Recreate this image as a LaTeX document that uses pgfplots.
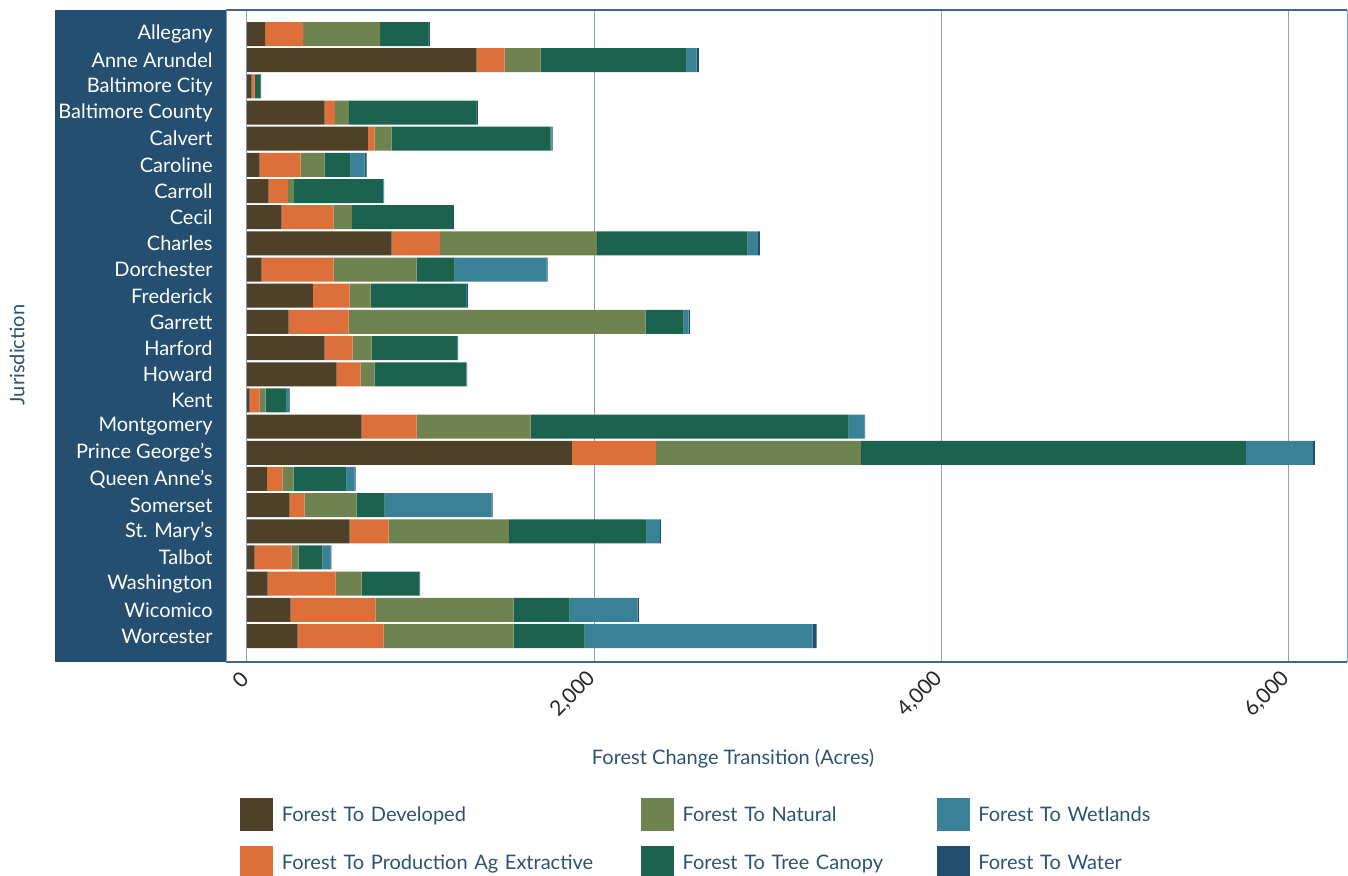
\documentclass[border=0pt]{standalone}
\usepackage{fontspec}
\setmainfont{Lato}
\usepackage{pgfplots}
\usepackage{pgfplotstable}
\pgfplotsset{compat=1.18}
\definecolor{cDev}{HTML}{4E4128}
\definecolor{cProd}{HTML}{DD6F3A}
\definecolor{cNat}{HTML}{6E834F}
\definecolor{cCan}{HTML}{1B624F}
\definecolor{cWet}{HTML}{388196}
\definecolor{cWat}{HTML}{224E6E}
\definecolor{panel}{HTML}{244F70}
\definecolor{tblue}{HTML}{2D5273}
\definecolor{gridc}{HTML}{8CA4B9}
\definecolor{axc}{HTML}{3C6790}
\definecolor{axl}{HTML}{7F9AB3}
\pgfplotstableread{
idx dev prod nat can wet wat
0 104 219 444 277 5 5
1 1324 161 207 842 58 12
2 27 17 2 33 0 3
3 448 58 81 732 6 6
4 696 40 98 916 6 6
5 73 236 138 150 81 12
6 125 110 35 513 5 2
7 200 300 104 582 2 5
8 834 277 905 870 58 12
9 85 415 478 219 530 6
10 379 213 121 548 6 6
11 240 346 1712 219 29 6
12 448 161 110 490 3 5
13 517 138 81 525 5 3
14 15 58 35 121 12 5
15 661 317 657 1833 92 3
16 1872 484 1182 2219 386 12
17 114 92 63 305 46 6
18 246 86 300 161 617 6
19 592 225 692 795 75 6
20 44 213 40 138 46 6
21 119 392 150 329 3 5
22 252 490 795 323 392 6
23 292 496 749 409 1314 23
}\data
\pgfplotsset{sq/.style={legend image code/.code={\fill[#1] (0pt,-4.5pt) rectangle (16pt,11.5pt);}}}
\begin{document}
\begin{tikzpicture}
\path[use as bounding box] (0pt,0pt) rectangle (674pt,437.5pt);
\fill[panel] (27.5pt,106.5pt) rectangle (113pt,432.5pt);
\node[rotate=90, text=tblue, font=\fontsize{10}{12}\selectfont] at (8.5pt,260pt) {Jurisdiction};
\begin{axis}[
  at={(113pt,106.5pt)}, anchor=south west,
  width=560.5pt, height=326pt, scale only axis,
  xbar stacked, bar width=12pt,
  xmin=-121, xmax=6340, ymin=-0.917, ymax=23.994, y dir=reverse,
  ytick={0,...,23},
  yticklabels={Allegany,Anne Arundel,Baltimore City,Baltimore County,Calvert,Caroline,Carroll,Cecil,Charles,Dorchester,Frederick,Garrett,Harford,Howard,Kent,Montgomery,Prince George's,Queen Anne's,Somerset,St. Mary's,Talbot,Washington,Wicomico,Worcester},
  yticklabel style={text=white, font=\fontsize{10}{12}\selectfont, inner sep=0pt, anchor=east, xshift=-6.5pt},
  xtick={0,2000,4000,6000},
  scaled x ticks=false,
  xticklabel style={yshift=-6.5pt, xshift=-1pt, rotate=45, anchor=east, inner sep=0pt, /pgf/number format/1000 sep={,}, /pgf/number format/assume math mode=true, font=\fontsize{10.5}{12}\selectfont, text=black!85},
  major tick length=0pt,
  xmajorgrids, major grid style={gridc, line width=0.5pt},
  separate axis lines,
  x axis line style={axc, line width=0.7pt},
  y axis line style={axl, line width=0.5pt},
  xlabel={Forest Change Transition (Acres)},
  xlabel style={at={(axis description cs:0.4523,0)}, anchor=center, yshift=-48.5pt, text=tblue, font=\fontsize{10}{12}\selectfont},
  legend columns=3,
  legend style={draw=none, fill=none, at={(axis description cs:0.0125,-0.2086)}, anchor=north west,
    inner sep=0pt, outer sep=0pt, column sep=0pt, row sep=7.5pt,
    font=\fontsize{10}{12}\selectfont, text=tblue,
    nodes={inner xsep=4.5pt, inner ysep=0pt, anchor=base west}},
]
\addplot[fill=cDev, draw=none, forget plot] table[x=dev, y=idx] {\data};
\addplot[fill=cProd, draw=none, forget plot] table[x=prod, y=idx] {\data};
\addplot[fill=cNat, draw=none, forget plot] table[x=nat, y=idx] {\data};
\addplot[fill=cCan, draw=none, forget plot] table[x=can, y=idx] {\data};
\addplot[fill=cWet, draw=none, forget plot] table[x=wet, y=idx] {\data};
\addplot[fill=cWat, draw=none, forget plot] table[x=wat, y=idx] {\data};
\addlegendimage{sq=cDev}
\addlegendentry[text width=175pt]{Forest To Developed}
\addlegendimage{sq=cNat}
\addlegendentry[text width=122.5pt]{Forest To Natural}
\addlegendimage{sq=cWet}
\addlegendentry[text width=120pt]{Forest To Wetlands}
\addlegendimage{sq=cProd}
\addlegendentry[text width=175pt]{Forest To Production Ag Extractive}
\addlegendimage{sq=cCan}
\addlegendentry[text width=122.5pt]{Forest To Tree Canopy}
\addlegendimage{sq=cWat}
\addlegendentry[text width=120pt]{Forest To Water}
\end{axis}
\end{tikzpicture}
\end{document}
